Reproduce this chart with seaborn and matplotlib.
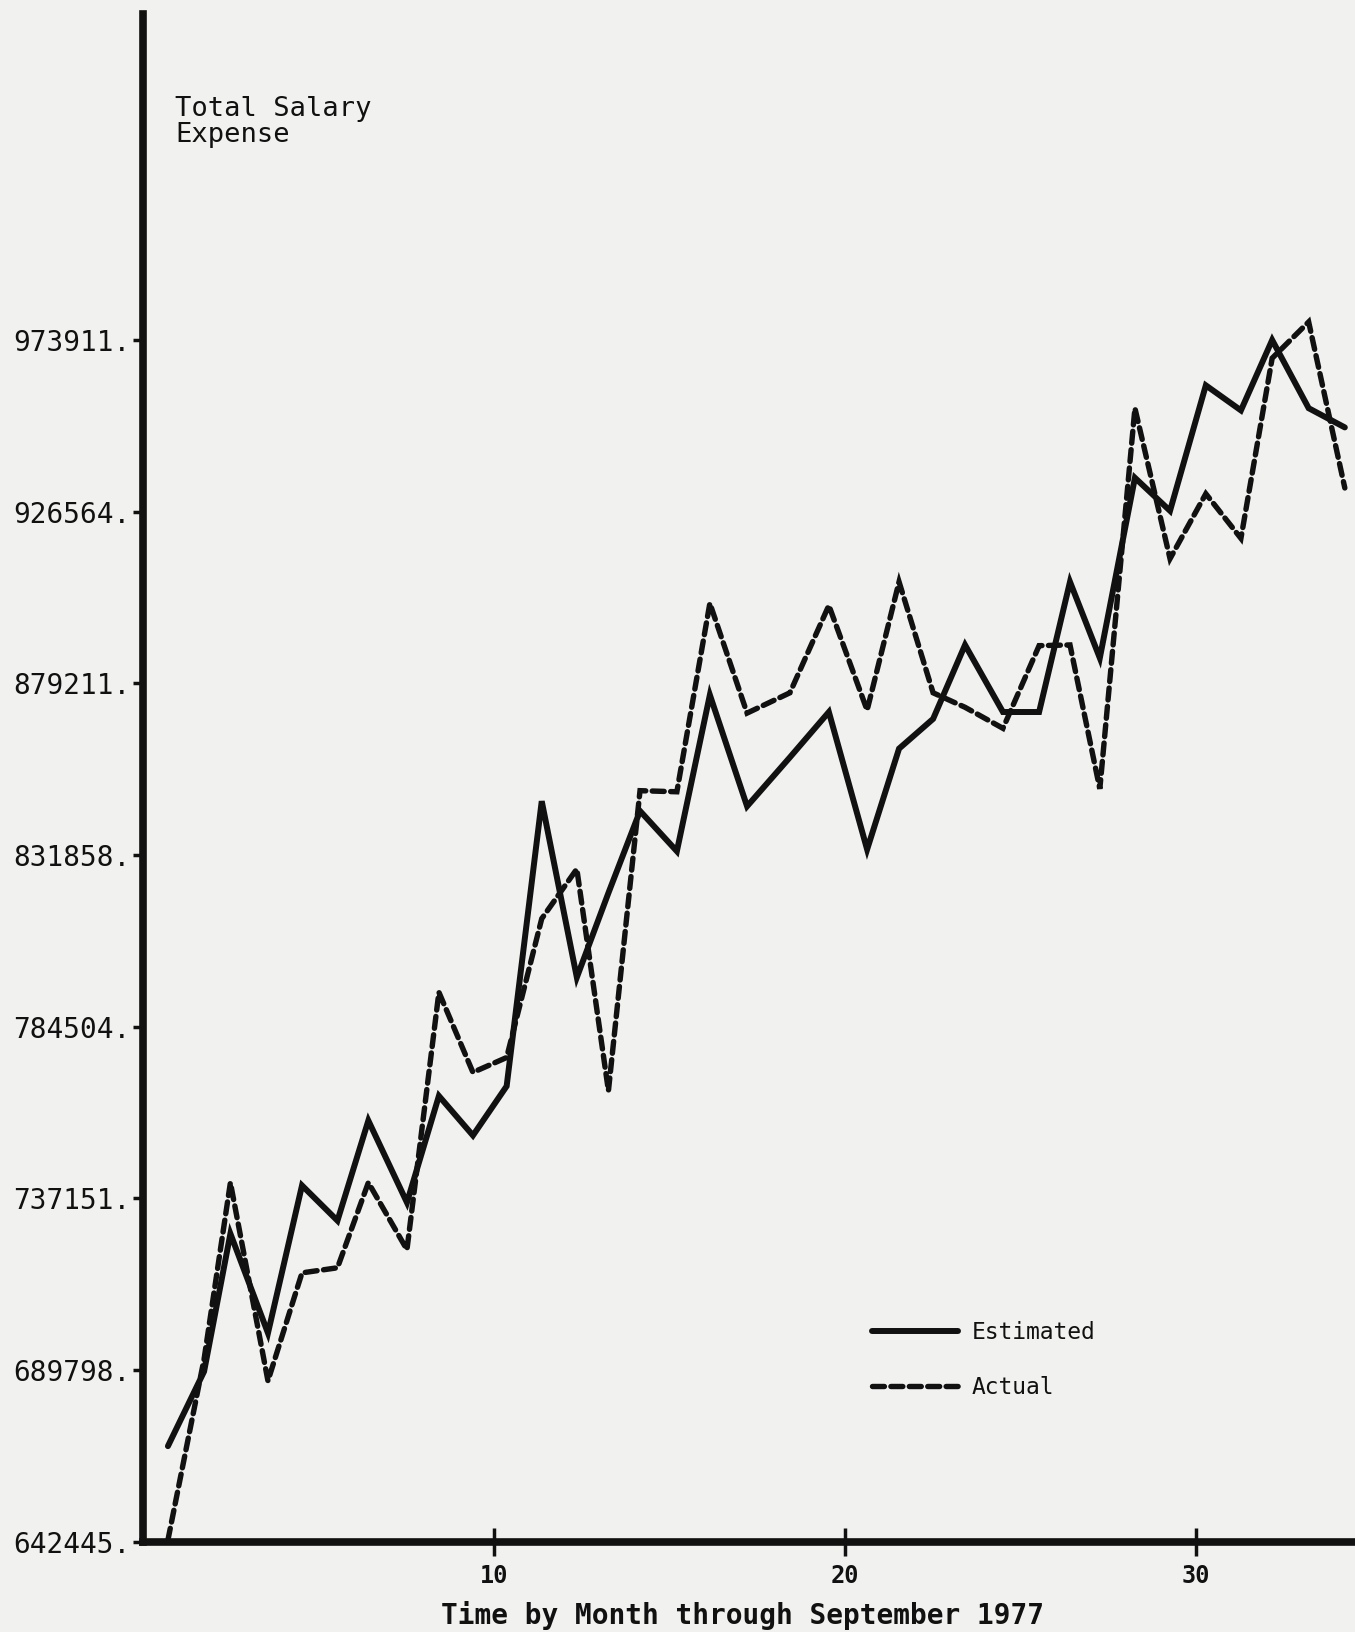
import matplotlib
matplotlib.use("Agg")
import matplotlib.pyplot as plt
import seaborn as sns
import pandas as pd

# Month position of each observation (months counted along the time axis)
months = [0.71, 1.74, 2.49, 3.56, 4.53, 5.54, 6.42, 7.52, 8.43, 9.40,
          10.36, 11.36, 12.36, 13.26, 14.16, 15.21, 16.15, 17.21, 18.43, 19.54,
          20.63, 21.54, 22.51, 23.42, 24.50, 25.53, 26.41, 27.26, 28.26, 29.26,
          30.28, 31.28, 32.17, 33.21, 34.24]

# Estimated total salary expense (model)
estimated = [668800, 689400, 727400, 700000, 740700, 731000, 758600, 736000, 765400, 754500,
             768100, 846700, 798100, 821400, 844000, 832900, 876000, 845300, 858800, 871300,
             833400, 861200, 869400, 889800, 871300, 871300, 907200, 886200, 935900, 926800,
             961400, 954500, 973900, 955100, 949800]

# Actual total salary expense
actual = [642900, 692800, 741500, 686800, 716600, 718000, 741500, 723000, 794000, 771900,
          776000, 814300, 828000, 766800, 849600, 849300, 901300, 871000, 876600, 900700,
          871800, 907200, 876600, 872600, 866800, 889600, 889800, 850100, 955100, 913600,
          931500, 919200, 968900, 978900, 933100]

y_ticks = [642445, 689798, 737151, 784504, 831858, 879211, 926564, 973911]
y_tick_labels = ["642445.", "689798.", "737151.", "784504.",
                 "831858.", "879211.", "926564.", "973911."]
x_ticks = [10, 20, 30]
x_tick_labels = ["10", "20", "30"]

sns.set_theme(style="ticks")
plt.rcParams["font.family"] = ["DejaVu Sans Mono", "DejaVu Sans"]

paper = "#f1f1ef"
ink = "#111111"

fig = plt.figure(figsize=(13.55, 16.32), dpi=100, facecolor=paper)
ax = fig.add_axes([0.10554, 0.05533, 0.89446, 0.93609])
ax.set_facecolor(paper)

df = pd.DataFrame({"month": months, "Estimated": estimated, "Actual": actual})

sns.lineplot(data=df, x="month", y="Estimated", ax=ax, color=ink, lw=4.3,
             sort=False, estimator=None, label="Estimated",
             solid_capstyle="round", solid_joinstyle="miter")
sns.lineplot(data=df, x="month", y="Actual", ax=ax, color=ink, lw=3.9,
             sort=False, estimator=None, label="Actual",
             linestyle=(0, (2.2, 1.2)), dash_capstyle="round",
             dash_joinstyle="miter")

ax.set_xlim(0, 34.53)
ax.set_ylim(642445, 1063832)

ax.set_yticks(y_ticks)
ax.set_yticklabels(y_tick_labels)
ax.set_xticks(x_ticks)
ax.set_xticklabels(x_tick_labels, fontweight="bold")

for side in ("top", "right"):
    ax.spines[side].set_visible(False)
for side in ("left", "bottom"):
    ax.spines[side].set_color(ink)
    ax.spines[side].set_linewidth(5.5)

ax.tick_params(axis="y", direction="out", length=7, width=2.5, pad=2,
               labelsize=20, colors=ink)
ax.tick_params(axis="x", direction="inout", length=20, width=2.5, pad=6,
               labelsize=17, colors=ink)

ax.set_xlabel("Time by Month through September 1977", fontsize=20,
              fontweight="bold", color=ink)
ax.xaxis.set_label_coords(0.495, -0.0486)
ax.xaxis.label.set_va("center")
ax.set_ylabel("")

ax.text(0.0264, 0.946, "Total Salary\nExpense", transform=ax.transAxes,
        ha="left", va="top", fontsize=19.5, linespacing=1.0, color=ink)

leg = ax.legend(loc="center left", bbox_to_anchor=(0.6435, 0.1667),
                bbox_transform=fig.transFigure, frameon=False,
                prop={"size": 16.5}, handlelength=3.76, handletextpad=0.6,
                labelspacing=1.4, borderpad=0, borderaxespad=0)
for t in leg.get_texts():
    t.set_color(ink)

fig.savefig("out.png", dpi=100, facecolor=paper)
